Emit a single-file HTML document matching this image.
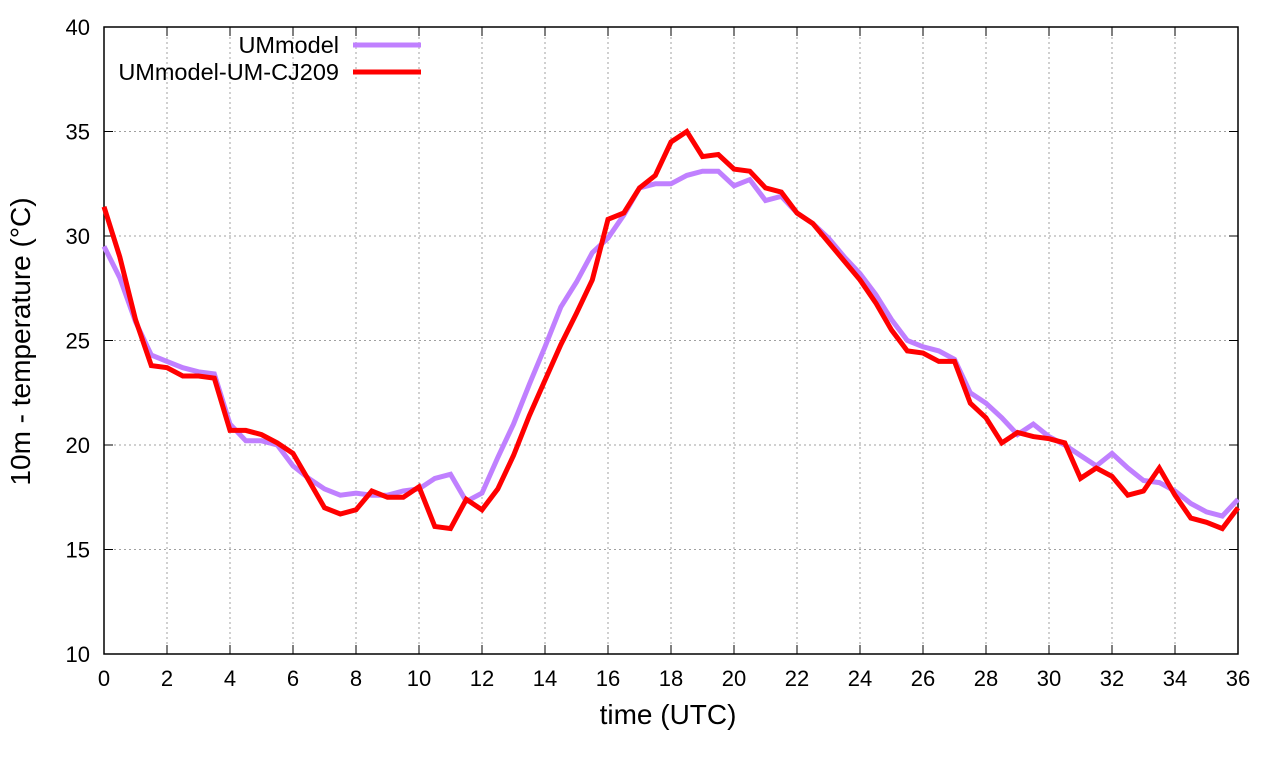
<!DOCTYPE html>
<html><head><meta charset="utf-8"><style>
body{margin:0;background:#fff;}
svg{display:block;font-family:"Liberation Sans",sans-serif;}
</style></head><body>
<svg id="chart" width="1280" height="760"></svg>
<script>
const xTicks=[0,2,4,6,8,10,12,14,16,18,20,22,24,26,28,30,32,34,36];
const yTicks=[10,15,20,25,30,35,40];
const times=[];for(let i=0;i<=72;i++)times.push(i*0.5);
const umModel=[29.5,28.0,25.9,24.3,24.0,23.7,23.5,23.4,21.0,20.2,20.2,20.0,19.0,18.4,17.9,17.6,17.7,17.6,17.6,17.8,17.9,18.4,18.6,17.3,17.7,19.4,21.0,22.9,24.7,26.6,27.8,29.2,29.9,31.0,32.3,32.5,32.5,32.9,33.1,33.1,32.4,32.7,31.7,31.9,31.1,30.6,29.9,29.0,28.2,27.2,26.0,25.0,24.7,24.5,24.1,22.5,22.0,21.3,20.5,21.0,20.4,20.0,19.5,19.0,19.6,18.9,18.3,18.2,17.8,17.2,16.8,16.6,17.4];
const umCJ209=[31.4,29.0,26.0,23.8,23.7,23.3,23.3,23.2,20.7,20.7,20.5,20.1,19.6,18.3,17.0,16.7,16.9,17.8,17.5,17.5,18.0,16.1,16.0,17.4,16.9,17.9,19.5,21.4,23.1,24.8,26.3,27.9,30.8,31.1,32.3,32.9,34.5,35.0,33.8,33.9,33.2,33.1,32.3,32.1,31.1,30.6,29.7,28.8,27.9,26.8,25.5,24.5,24.4,24.0,24.0,22.0,21.3,20.1,20.6,20.4,20.3,20.1,18.4,18.9,18.5,17.6,17.8,18.9,17.6,16.5,16.3,16.0,17.0];

const NS="http://www.w3.org/2000/svg";
const svg=document.getElementById('chart');
const L=104,R=1238,T=27,B=654;
const X=v=>L+(v-0)/(36-0)*(R-L);
const Y=v=>B-(v-10)/(40-10)*(B-T);
function mk(tag,attrs,parent){const e=document.createElementNS(NS,tag);for(const k in attrs)e.setAttribute(k,attrs[k]);(parent||svg).appendChild(e);return e;}

const grid=mk('g',{});


xTicks.forEach(t=>{if(t>0&&t<36){const l=mk('line',{x1:X(t),x2:X(t),y1:T,y2:B,stroke:'#a0a0a0','stroke-dasharray':'2,3','stroke-width':1},grid);

}});
yTicks.forEach(t=>{if(t>10&&t<40){const l=mk('line',{x1:L,x2:R,y1:Y(t),y2:Y(t),stroke:'#a0a0a0','stroke-dasharray':'2,3','stroke-width':1},grid);

}});

const frame=mk('rect',{x:L,y:T,width:R-L,height:B-T,fill:'none',stroke:'#000','stroke-width':1.5});



xTicks.forEach(t=>{
 mk('line',{x1:X(t),x2:X(t),y1:B,y2:B-9,stroke:'#000'});
 mk('line',{x1:X(t),x2:X(t),y1:T,y2:T+9,stroke:'#000'});
 const tx=mk('text',{x:X(t),y:B+32,'text-anchor':'middle','font-size':22});
 tx.textContent=t;
 
 
});
yTicks.forEach(t=>{
 mk('line',{x1:L,x2:L+9,y1:Y(t),y2:Y(t),stroke:'#000'});
 mk('line',{x1:R,x2:R-9,y1:Y(t),y2:Y(t),stroke:'#000'});
 const tx=mk('text',{x:L-14,y:Y(t)+8,'text-anchor':'end','font-size':22});
 tx.textContent=t;
 
 
});

const xt=mk('text',{x:(L+R)/2-3,y:724,'text-anchor':'middle','font-size':28});
xt.textContent='time (UTC)';


const yt=mk('text',{x:0,y:0,'text-anchor':'middle','font-size':28,transform:`translate(30,${(T+B)/2+1}) rotate(-90)`});
yt.textContent='10m - temperature (°C)';



function series(vals,color,name){
 const d=vals.map((v,i)=>(i?'L':'M')+X(times[i]).toFixed(1)+','+Y(v).toFixed(1)).join(' ');
 const p=mk('path',{d:d,fill:'none',stroke:color,'stroke-width':5,'stroke-linejoin':'miter'});
 
 
}
series(umModel,'#c080ff','ummodel-line');
series(umCJ209,'#ff0000','ummodel-um-cj209-line');

const leg=[['UMmodel','#c080ff',45],['UMmodel-UM-CJ209','#ff0000',72]];
leg.forEach(([lab,c,y])=>{
 const g=mk('g',{});
 
 
 const t=mk('text',{x:339,y:y+8,'text-anchor':'end','font-size':23.5},g);t.textContent=lab;
 mk('line',{x1:353,x2:421,y1:y,y2:y,stroke:c,'stroke-width':5},g);
});
</script>
</body></html>
